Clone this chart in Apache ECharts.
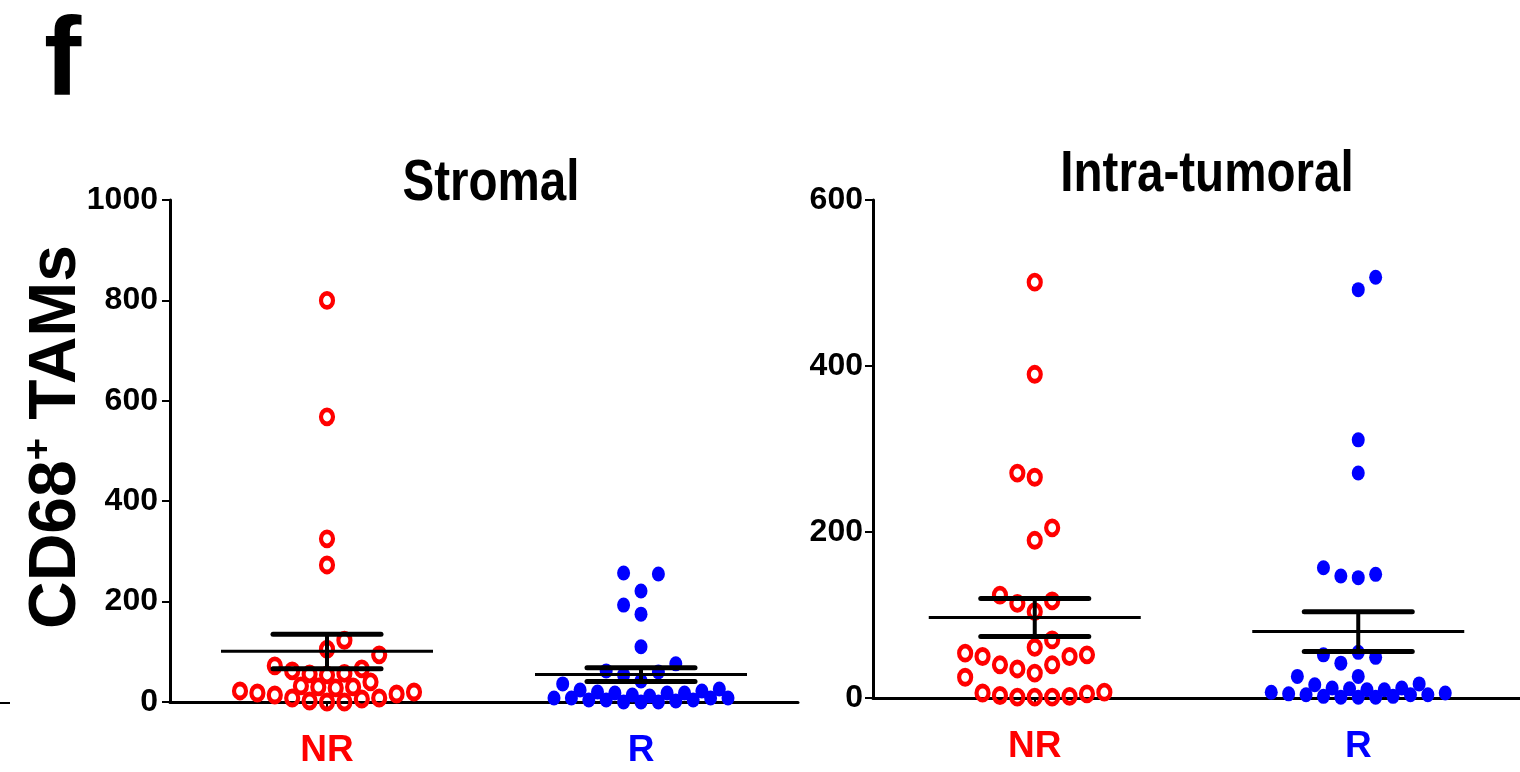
<!DOCTYPE html>
<html>
<head>
<meta charset="utf-8">
<title>CD68+ TAMs</title>
<script src="https://cdn.jsdelivr.net/npm/echarts@6/dist/echarts.min.js"></script>
<style>
  html, body { margin: 0; padding: 0; background: #fff; }
  #chart { width: 1520px; height: 772px; }
</style>
</head>
<body>
<div id="chart"></div>
<script>
// groups on the x axis
var groups = ['NR', 'R'];
var groupCenters = [0.5, 1.5];

// each point: [swarm column, CD68+ TAMs]
var stromalNR = [
  [0, 800], [0, 568], [0, 325], [0, 273],
  [1, 123], [0, 105], [3, 94], [-3, 72], [-2, 62], [-1, 56], [0, 54], [1, 57], [2, 66], [2.5, 40],
  [-1.5, 32], [-0.5, 30], [0.5, 28], [1.5, 30],
  [-5, 22], [-4, 18], [-3, 14], [-2, 8], [-1, 2], [0, 0], [1, 0], [2, 6], [3, 8], [4, 16], [5, 20]
];
var stromalR = [
  [-1, 257], [1, 255], [0, 221], [-1, 193], [0, 175], [0, 110], [2, 76], [-2, 62], [-1, 54], [1, 60], [0, 42],
  [-4.5, 36], [-3.5, 24], [-2.5, 20], [-1.5, 18], [-0.5, 14], [0.5, 12], [1.5, 18], [2.5, 18], [3.5, 22], [4.5, 26],
  [-5, 8], [-4, 8], [-3, 4], [-2, 4], [-1, 0], [0, 0], [1, 0], [2, 2], [3, 4], [4, 8], [5, 8]
];
var intraNR = [
  [0, 501], [0, 390], [-1, 271], [0, 266], [1, 205], [0, 190],
  [-2, 124], [-1, 114], [1, 117], [0, 104], [0, 61], [1, 70],
  [-4, 54], [-3, 50], [-2, 40], [-1, 35], [0, 30], [1, 40], [2, 50], [3, 52],
  [-4, 25], [-3, 6], [-2, 3], [-1, 1], [0, 1], [1, 1], [2, 2], [3, 5], [4, 7]
];
var intraR = [
  [1, 507], [0, 492], [0, 311], [0, 271], [-2, 157], [-1, 147], [0, 145], [1, 149],
  [-2, 52], [-1, 42], [0, 55], [1, 49], [-3.5, 26], [0, 26],
  [-2.5, 16], [-1.5, 12], [-0.5, 11], [0.5, 10], [1.5, 10], [2.5, 12], [3.5, 17],
  [-5, 7], [-4, 5], [-3, 4], [-2, 2], [-1, 1], [0, 1], [1, 1], [2, 2], [3, 4], [4, 4], [5, 6]
];

// mean and SEM bounds, [NR, R]
var stromalMean = [101, 55];
var stromalSemLo = [66, 41];
var stromalSemHi = [135, 68];
var intraMean = [97, 80];
var intraSemLo = [74, 56];
var intraSemHi = [120, 104];

// y ticks
var stromalTicks = { min: 0, max: 1000, interval: 200 };
var intraTicks = { min: 0, max: 600, interval: 200 };

var SANS = "'Liberation Sans', Arial, sans-serif";
var RED = '#ff0000';
var BLUE = '#0000ff';
var STEP_PX = 17.4;

var grids = [
  { left: 170, width: 628, top: 200, height: 502 },
  { left: 873, width: 647, top: 200, height: 498 }
];

function swarm(points, center, gridWidth) {
  var step = STEP_PX / (gridWidth / 2);
  return points.map(function (p) { return [center + p[0] * step, p[1]]; });
}

function summary(mean, lo, hi) {
  return groupCenters.map(function (c, i) { return [c, mean[i], lo[i], hi[i]]; });
}

function renderMean(params, api) {
  var c = api.value(0);
  var pm = api.coord([c, api.value(1)]);
  var plo = api.coord([c, api.value(2)]);
  var phi = api.coord([c, api.value(3)]);
  var black = { stroke: '#000', lineWidth: 3 };
  var cap = { stroke: '#000', lineWidth: 5, lineCap: 'round' };
  return {
    type: 'group',
    children: [
      { type: 'line', shape: { x1: pm[0], y1: plo[1], x2: pm[0], y2: phi[1] }, style: { stroke: '#000', lineWidth: 4 } },
      { type: 'line', shape: { x1: pm[0] - 54, y1: plo[1], x2: pm[0] + 54, y2: plo[1] }, style: cap },
      { type: 'line', shape: { x1: pm[0] - 54, y1: phi[1], x2: pm[0] + 54, y2: phi[1] }, style: cap },
      { type: 'line', shape: { x1: pm[0] - 106, y1: pm[1], x2: pm[0] + 106, y2: pm[1] }, style: black }
    ]
  };
}

function xAxisFor(gridIndex) {
  return {
    type: 'value',
    gridIndex: gridIndex,
    min: 0,
    max: 2,
    splitLine: { show: false },
    axisLine: { show: true, onZero: false, lineStyle: { color: '#000', width: 3 } },
    axisTick: { show: true, customValues: groupCenters, length: 5, lineStyle: { color: '#000', width: 2 } },
    axisLabel: {
      show: true,
      customValues: groupCenters,
      margin: 30,
      formatter: function (v) {
        var name = groups[groupCenters.indexOf(v)];
        return '{' + name.toLowerCase() + '|' + name + '}';
      },
      rich: {
        nr: { color: RED, fontFamily: SANS, fontWeight: 'bold', fontSize: 37 },
        r: { color: BLUE, fontFamily: SANS, fontWeight: 'bold', fontSize: 37 }
      }
    }
  };
}

function yAxisFor(gridIndex, ticks, margin) {
  return {
    type: 'value',
    gridIndex: gridIndex,
    min: ticks.min,
    max: ticks.max,
    interval: ticks.interval,
    splitLine: { show: false },
    axisLine: { show: true, lineStyle: { color: '#000', width: 3 } },
    axisTick: { show: true, length: 8, lineStyle: { color: '#000', width: 2 } },
    axisLabel: {
      margin: margin, color: '#000', fontFamily: SANS, fontWeight: 'bold', fontSize: 32,
      formatter: function (v) { return String(v); }
    }
  };
}

function ringSeries(name, data, idx) {
  return {
    name: name, type: 'scatter', xAxisIndex: idx, yAxisIndex: idx,
    data: data, symbol: 'circle', symbolSize: [12, 14],
    itemStyle: { color: 'rgba(0,0,0,0)', borderColor: RED, borderWidth: 4.5, opacity: 1 },
    z: 3, silent: true
  };
}

function dotSeries(name, data, idx) {
  return {
    name: name, type: 'scatter', xAxisIndex: idx, yAxisIndex: idx,
    data: data, symbol: 'circle', symbolSize: [13, 15],
    itemStyle: { color: BLUE, opacity: 1 },
    z: 3, silent: true
  };
}

function meanSeries(data, idx) {
  return {
    type: 'custom', xAxisIndex: idx, yAxisIndex: idx,
    data: data, renderItem: renderMean, z: 5, silent: true
  };
}

// condensed bold text, like the figure's narrow face
function narrowText(text, x, y, size) {
  return {
    type: 'text', x: x, y: y, scaleX: 0.82, scaleY: 1,
    style: { text: text, fill: '#000', font: 'bold ' + size + 'px ' + SANS, align: 'center', verticalAlign: 'middle' }
  };
}

var chart = echarts.init(document.getElementById('chart'));

var option = {
  backgroundColor: '#fff',
  animation: false,
  grid: grids,
  xAxis: [xAxisFor(0), xAxisFor(1)],
  yAxis: [yAxisFor(0, stromalTicks, 12), yAxisFor(1, intraTicks, 10)],
  series: [
    ringSeries('Stromal NR', swarm(stromalNR, groupCenters[0], grids[0].width), 0),
    dotSeries('Stromal R', swarm(stromalR, groupCenters[1], grids[0].width), 0),
    meanSeries(summary(stromalMean, stromalSemLo, stromalSemHi), 0),
    ringSeries('Intra-tumoral NR', swarm(intraNR, groupCenters[0], grids[1].width), 1),
    dotSeries('Intra-tumoral R', swarm(intraR, groupCenters[1], grids[1].width), 1),
    meanSeries(summary(intraMean, intraSemLo, intraSemHi), 1)
  ],
  graphic: [
    narrowText('Stromal', 491, 184, 58),
    narrowText('Intra-tumoral', 1207, 175, 58),
    { type: 'text', x: 44, y: 64,
      style: { text: 'f', fill: '#000', font: 'bold 112px ' + SANS, verticalAlign: 'middle' } },
    { type: 'text', x: 57, y: 437, rotation: Math.PI / 2,
      style: {
        text: '{a|CD68}{s|+}{a| TAMs}',
        align: 'center', verticalAlign: 'middle',
        rich: {
          a: { fill: '#000', fontFamily: SANS, fontWeight: 'bold', fontSize: 66, lineHeight: 72 },
          s: { fill: '#000', fontFamily: SANS, fontWeight: 'bold', fontSize: 38, lineHeight: 72, verticalAlign: 'top' }
        }
      } },
    { type: 'line', shape: { x1: 0, y1: 703, x2: 10, y2: 703 }, style: { stroke: '#000', lineWidth: 2 } }
  ]
};

chart.setOption(option);
</script>
</body>
</html>
